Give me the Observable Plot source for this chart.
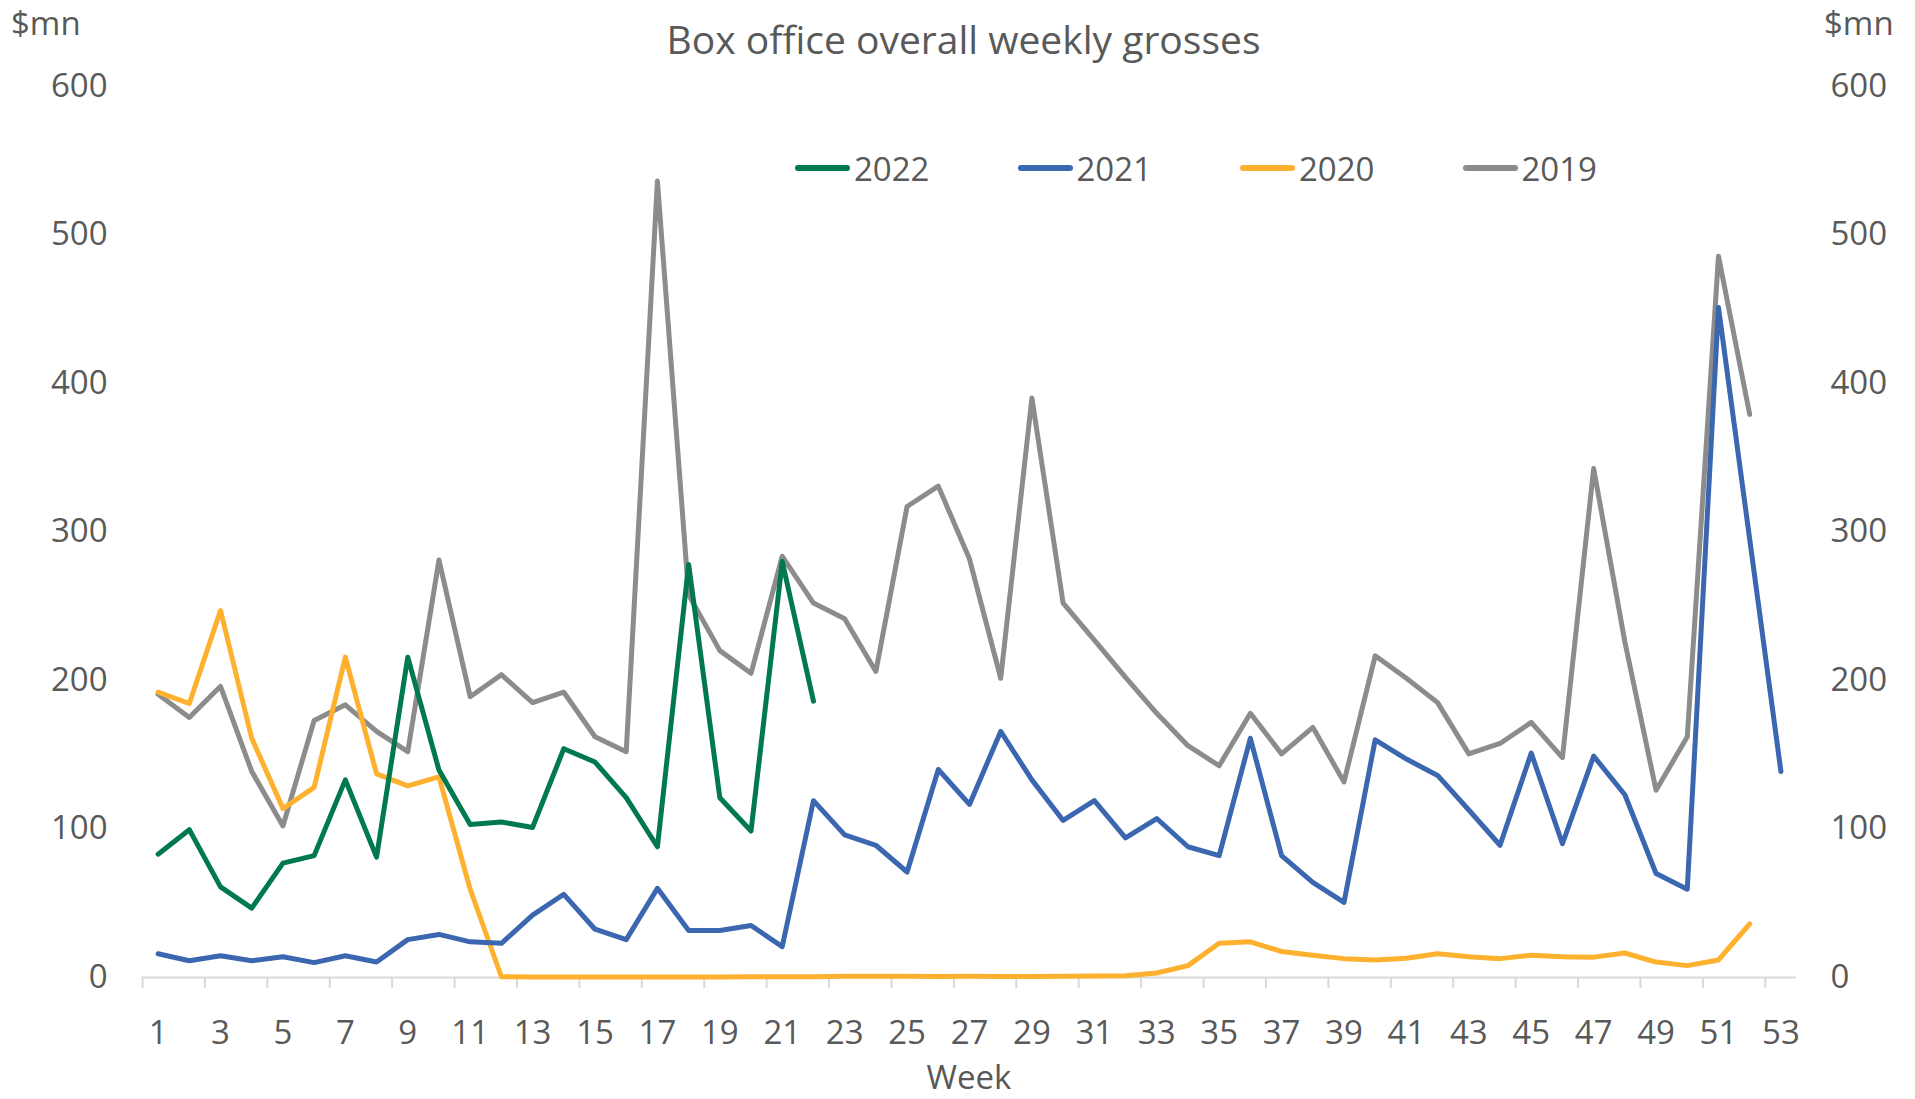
<!DOCTYPE html>
<html>
<head>
<meta charset="utf-8">
<script src="https://cdn.jsdelivr.net/npm/d3@7"></script>
<script src="https://cdn.jsdelivr.net/npm/@observablehq/plot@0.6"></script>
<style>
  html, body { margin: 0; padding: 0; background: #ffffff; }
  #wrap { position: relative; width: 1915px; height: 1099px; font-family: 'Open Sans', sans-serif; color: #595959; overflow: hidden; }
  #chart { position: absolute; left: 0; top: 0; }
  .ov { position: absolute; line-height: 1; white-space: nowrap; }
  #title { font-size: 39px; left: 963.5px; top: 18.5px; transform: translateX(-50%); }
  .unit { font-size: 33px; top: 6px; }
  #unitL { left: 11px; }
  #unitR { left: 1824px; }
  #xlabel { font-size: 33px; left: 969px; top: 1060px; transform: translateX(-50%); }
  #legend { left: 795px; top: 151.5px; display: flex; font-size: 33px; }
  .item { display: flex; align-items: center; width: 222.5px; }
  .sw { display: inline-block; width: 55px; height: 5.5px; border-radius: 3px; margin-right: 4px; }
</style>
</head>
<body>
<div id="wrap">
  <div id="chart"></div>
  <div class="ov" id="title">Box office overall weekly grosses</div>
  <div class="ov unit" id="unitL">$mn</div>
  <div class="ov unit" id="unitR">$mn</div>
  <div class="ov" id="xlabel">Week</div>
  <div class="ov" id="legend"></div>
</div>
<script>
// ---- data ----
const weeks = [1,2,3,4,5,6,7,8,9,10,11,12,13,14,15,16,17,18,19,20,21,22,23,24,25,26,27,28,29,30,31,32,33,34,35,36,37,38,39,40,41,42,43,44,45,46,47,48,49,50,51,52,53];
const seriesNames = ["2022", "2021", "2020", "2019"];
const seriesColors = ["#00794F", "#3B66B0", "#FDB12E", "#8C8C8C"];
const yTicks = [0, 100, 200, 300, 400, 500, 600];

const gross2022 = [83, 99.5, 61, 46.7, 77, 82, 133, 81, 215.6, 139.6, 103, 104.7, 101, 154, 145, 121, 88, 278, 121, 98.6, 280, 186];
const gross2021 = [16, 11.3, 14.6, 11.3, 14, 10, 14.6, 10.4, 25.5, 29,
                   24, 23, 42, 56, 32.5, 25.5, 60, 31.6, 31.6, 35,
                   20.8, 119, 96, 89, 71, 140, 116.5, 165.6, 133, 105.7,
                   119, 94, 107, 88, 82, 161, 82, 64, 50.5, 160,
                   147, 136, 112.7, 89, 151, 90, 149, 123, 70, 59.4,
                   451, 295, 138.7];
const gross2020 = [192, 184.4, 247, 161, 113.7, 128, 215.6, 137, 129, 135,
                   59.4, 0.5, 0.3, 0.3, 0.3, 0.3, 0.3, 0.3, 0.4, 0.5,
                   0.5, 0.5, 0.8, 0.8, 0.8, 0.7, 0.8, 0.6, 0.6, 0.9,
                   1.0, 1.2, 3, 8, 23, 24, 17.5, 15, 12.7, 11.8,
                   13, 16, 14, 12.7, 15, 14, 13.7, 16.5, 10.4, 8,
                   11.8, 36];
const gross2019 = [190.6, 175, 196, 138.7, 102, 173, 183.5, 165.6, 152, 281,
                   189, 203.8, 185, 192, 162, 152, 536, 257.5, 220, 204.7,
                   283.5, 252, 241.5, 206, 317, 330.7, 281.6, 201.4, 390, 252,
                   227, 202, 177.8, 156, 142.5, 177.8, 150.5, 168.4, 131.6, 216.5,
                   201.4, 185, 150.5, 157.5, 171.7, 148, 342.5, 226, 126, 162,
                   485.4, 379];

const seriesValues = [gross2022, gross2021, gross2020, gross2019];

// ---- build tables ----
const tables = seriesValues.map((vals, i) =>
  vals.map((v, j) => ({ week: weeks[j], value: v, series: seriesNames[i] }))
);
const labelWeeks = weeks.filter(w => w % 2 === 1);
const boundaryTicks = labelWeeks.map(w => w - 0.5);

const lineMarks = [];
for (let i = tables.length - 1; i >= 0; i--) {
  lineMarks.push(Plot.line(tables[i], {
    x: "week", y: "value",
    stroke: seriesColors[i], strokeWidth: 5,
    strokeLinejoin: "round", strokeLinecap: "round"
  }));
}

const chart = Plot.plot({
  width: 1915,
  height: 1099,
  marginLeft: 142,
  marginRight: 119,
  marginTop: 85.5,
  marginBottom: 122,
  style: { fontFamily: "'Open Sans', sans-serif", fontSize: "33px", color: "#595959", background: "transparent" },
  x: { domain: [weeks[0] - 0.5, weeks[weeks.length - 1] + 0.5] },
  y: { domain: [yTicks[0], yTicks[yTicks.length - 1]] },
  marks: [
    Plot.axisY({ anchor: "left", ticks: yTicks, tickSize: 0, tickPadding: 35, label: null }),
    Plot.axisY({ anchor: "right", ticks: yTicks, tickSize: 0, tickPadding: 34, label: null, textAnchor: "start" }),
    Plot.axisX({ ticks: boundaryTicks, tickSize: 11, tickFormat: () => "", stroke: "#D9D9D9", strokeWidth: 2, label: null }),
    Plot.axisX({ ticks: labelWeeks, tickSize: 0, tickPadding: 43, label: null }),
    Plot.ruleY([0], { stroke: "#D9D9D9", strokeWidth: 2 }),
    ...lineMarks
  ]
});
document.getElementById("chart").appendChild(chart);

// ---- legend ----
const legend = document.getElementById("legend");
seriesNames.forEach((name, i) => {
  const item = document.createElement("div");
  item.className = "item";
  const sw = document.createElement("span");
  sw.className = "sw";
  sw.style.background = seriesColors[i];
  const tx = document.createElement("span");
  tx.textContent = name;
  item.appendChild(sw);
  item.appendChild(tx);
  legend.appendChild(item);
});
</script>
</body>
</html>
